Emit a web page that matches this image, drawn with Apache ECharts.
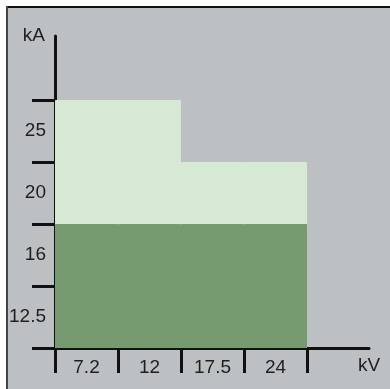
<!DOCTYPE html>
<html>
<head>
<meta charset="utf-8">
<script src="https://cdn.jsdelivr.net/npm/echarts@6/dist/echarts.min.js"></script>
<style>
  html, body { margin: 0; padding: 0; background: #fff; }
  #chart { width: 390px; height: 389px; }
</style>
</head>
<body>
<div id="chart"></div>
<script>
  // rated voltage (kV) categories and short-circuit current (kA) levels
  var voltages = ['7.2', '12', '17.5', '24'];
  var currents = ['12.5', '16', '20', '25'];
  // highest current reached per voltage (light area) and base level (dark area)
  var maxCurrent = ['25', '25', '20', '20'];
  var baseCurrent = ['16', '16', '16', '16'];

  var textColor = '#1e1e1e';
  var lineColor = '#111';
  var font = 'Liberation Sans, Arial, sans-serif';

  // bar height = number of current bands up to that level
  function toBands (list) {
    return list.map(function (v) { return currents.indexOf(v) + 1; });
  }

  var myChart = echarts.init(document.getElementById('chart'));
  myChart.setOption({
    animation: false,
    backgroundColor: '#fff',
    graphic: [
      { type: 'rect', z: -10, shape: { x: 7, y: 7, width: 383, height: 382 }, style: { fill: '#bdc0c3' } },
      { type: 'line', z: -9, shape: { x1: 6, y1: 7, x2: 390, y2: 7 }, style: { stroke: '#111', lineWidth: 2 } },
      { type: 'line', z: -9, shape: { x1: 7, y1: 6, x2: 7, y2: 389 }, style: { stroke: '#444', lineWidth: 2 } }
    ],
    grid: [
      { left: 55, top: 100, width: 252, height: 248 },
      { left: 55, top: 36, width: 314, height: 312 }
    ],
    xAxis: [{
      gridIndex: 0,
      type: 'category',
      data: voltages,
      axisLine: { show: true, lineStyle: { color: lineColor, width: 3 } },
      axisTick: { show: true, length: 25, lineStyle: { color: lineColor, width: 3 } },
      axisLabel: { color: textColor, fontSize: 19, fontFamily: font, margin: 10 },
      splitLine: { show: false }
    }, {
      gridIndex: 1,
      type: 'value',
      min: 0,
      max: 1,
      name: 'kV',
      nameLocation: 'end',
      nameGap: 0,
      nameTextStyle: {
        color: textColor, fontSize: 19, fontFamily: font,
        align: 'center', verticalAlign: 'top', padding: [8, 0, 0, 0]
      },
      axisLine: { show: true, lineStyle: { color: lineColor, width: 3 } },
      axisTick: { show: false },
      axisLabel: { show: false },
      splitLine: { show: false }
    }],
    yAxis: [{
      gridIndex: 0,
      type: 'category',
      data: currents,
      axisLine: { show: true, lineStyle: { color: lineColor, width: 3 } },
      axisTick: { show: true, length: 23, lineStyle: { color: lineColor, width: 3 } },
      axisLabel: { color: textColor, fontSize: 19, fontFamily: font, margin: 9 },
      splitLine: { show: false }
    }, {
      gridIndex: 0,
      type: 'value',
      min: 0,
      max: currents.length,
      show: false
    }, {
      gridIndex: 1,
      type: 'value',
      min: 0,
      max: 1,
      name: 'kA',
      nameLocation: 'end',
      nameGap: 0,
      nameTextStyle: {
        color: textColor, fontSize: 19, fontFamily: font,
        align: 'right', verticalAlign: 'middle', padding: [0, 10, 3, 0]
      },
      axisLine: { show: true, lineStyle: { color: lineColor, width: 3 } },
      axisTick: { show: false },
      axisLabel: { show: false },
      splitLine: { show: false }
    }],
    series: [{
      type: 'bar',
      xAxisIndex: 0,
      yAxisIndex: 1,
      data: toBands(maxCurrent),
      barWidth: '100%',
      barGap: '-100%',
      itemStyle: { color: '#d6e9d3', borderColor: '#d6e9d3', borderWidth: 1 }
    }, {
      type: 'bar',
      xAxisIndex: 0,
      yAxisIndex: 1,
      data: toBands(baseCurrent),
      barWidth: '100%',
      barGap: '-100%',
      itemStyle: { color: '#779b70', borderColor: '#779b70', borderWidth: 1 }
    }]
  });
</script>
</body>
</html>
